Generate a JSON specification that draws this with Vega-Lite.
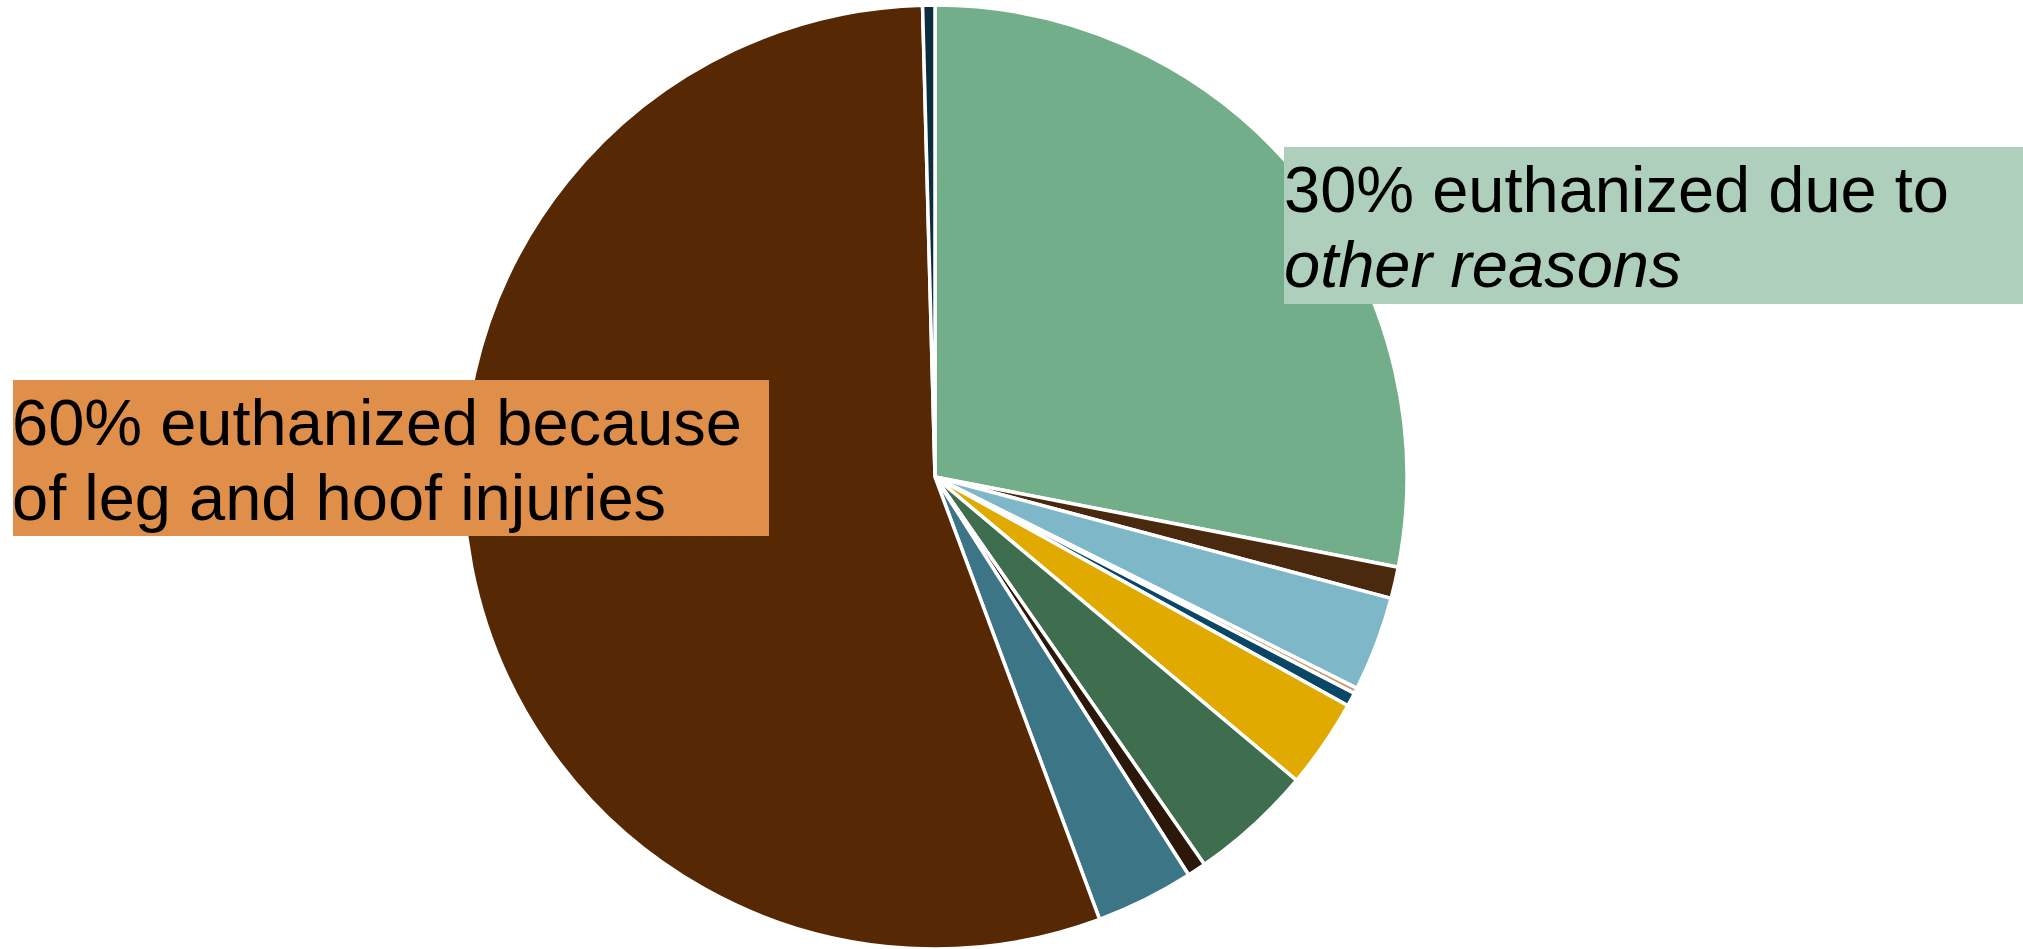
{
  "$schema": "https://vega.github.io/schema/vega-lite/v6.json",
  "width": 2023,
  "height": 949,
  "autosize": {"type": "none"},
  "padding": 0,
  "background": "white",
  "config": {"view": {"stroke": null}},
  "datasets": {
    "slices": [
      {"order": 1, "cause": "Other reasons", "share": 28.06},
      {"order": 2, "cause": "Cause B", "share": 1.08},
      {"order": 3, "cause": "Cause C", "share": 3.25},
      {"order": 4, "cause": "Cause D", "share": 0.19},
      {"order": 5, "cause": "Cause E", "share": 0.47},
      {"order": 6, "cause": "Cause F", "share": 3.06},
      {"order": 7, "cause": "Cause G", "share": 4.22},
      {"order": 8, "cause": "Cause H", "share": 0.64},
      {"order": 9, "cause": "Cause I", "share": 3.36},
      {"order": 10, "cause": "Leg and hoof injuries", "share": 55.25},
      {"order": 11, "cause": "Cause K", "share": 0.42}
    ],
    "boxes": [
      {"group": "other", "x0": 1284, "x1": 2023, "y0": 147, "y1": 304},
      {"group": "injury", "x0": 13, "x1": 769, "y0": 380, "y1": 536}
    ],
    "lines": [
      {"text": "30% euthanized due to", "x": 1284, "y": 212},
      {"text": "60% euthanized because", "x": 12, "y": 445},
      {"text": "of leg and hoof injuries", "x": 12, "y": 520}
    ],
    "italicLines": [
      {"text": "other reasons", "x": 1284, "y": 287}
    ]
  },
  "layer": [
    {
      "data": {"name": "slices"},
      "mark": {"type": "arc", "outerRadius": 472, "stroke": "white", "strokeWidth": 3.5},
      "encoding": {
        "x": {"datum": 935, "type": "quantitative", "scale": {"domain": [0, 2023], "nice": false, "zero": false}, "axis": null},
        "y": {"datum": 477, "type": "quantitative", "scale": {"domain": [0, 949], "nice": false, "zero": false, "reverse": true}, "axis": null},
        "theta": {"field": "share", "type": "quantitative", "stack": true},
        "order": {"field": "order", "type": "quantitative"},
        "color": {
          "field": "cause",
          "type": "nominal",
          "legend": null,
          "scale": {
            "domain": ["Other reasons", "Cause B", "Cause C", "Cause D", "Cause E", "Cause F", "Cause G", "Cause H", "Cause I", "Leg and hoof injuries", "Cause K"],
            "range": ["#72AE89", "#4A2A0E", "#7EB8C8", "#C8966A", "#0A4766", "#E0AA00", "#3F6E4F", "#2B1808", "#3C7585", "#562804", "#0D2D3F"]
          }
        }
      }
    },
    {
      "data": {"name": "boxes"},
      "mark": {"type": "rect"},
      "encoding": {
        "x": {"field": "x0", "type": "quantitative"},
        "x2": {"field": "x1"},
        "y": {"field": "y0", "type": "quantitative"},
        "y2": {"field": "y1"},
        "fill": {
          "field": "group",
          "type": "nominal",
          "legend": null,
          "scale": {"domain": ["other", "injury"], "range": ["#ADCFBB", "#E08F4A"]}
        }
      }
    },
    {
      "data": {"name": "lines"},
      "mark": {"type": "text", "align": "left", "baseline": "alphabetic", "font": "Liberation Sans", "fontSize": 65, "color": "black"},
      "encoding": {
        "x": {"field": "x", "type": "quantitative"},
        "y": {"field": "y", "type": "quantitative"},
        "text": {"field": "text"}
      }
    },
    {
      "data": {"name": "italicLines"},
      "mark": {"type": "text", "align": "left", "baseline": "alphabetic", "font": "Liberation Sans", "fontSize": 65, "fontStyle": "italic", "color": "black"},
      "encoding": {
        "x": {"field": "x", "type": "quantitative"},
        "y": {"field": "y", "type": "quantitative"},
        "text": {"field": "text"}
      }
    }
  ],
  "resolve": {"scale": {"color": "independent", "fill": "independent"}}
}
